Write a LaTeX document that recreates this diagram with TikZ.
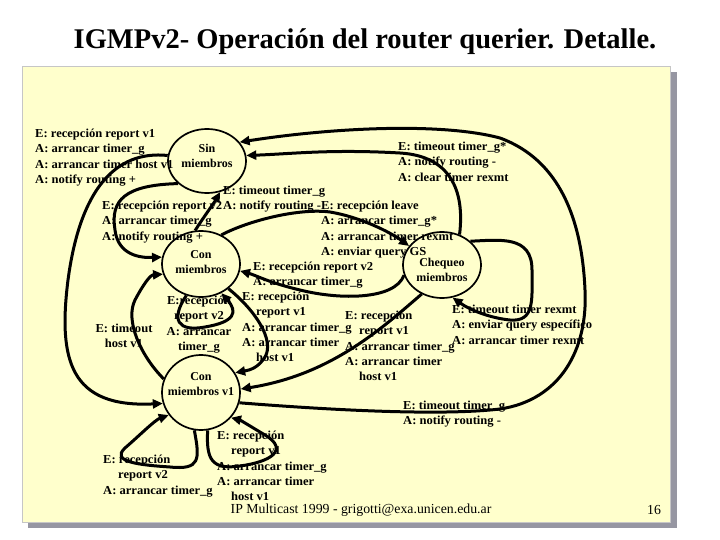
\documentclass[tikz,border=0pt]{standalone}
\usepackage{fontspec}
\setmainfont{Liberation Serif}
\newfontfamily\lblfont{Liberation Serif}[FakeStretch=1.03]
\usepackage{xcolor}
\usepackage{tikz}
\usetikzlibrary{shapes.geometric,arrows.meta,positioning,calc}

\definecolor{panelfill}{RGB}{255,255,204}
\definecolor{panelshadow}{RGB}{150,150,162}

\begin{document}
\begin{tikzpicture}[x=1pt, y=-1pt,
    >={Triangle[length=10pt,width=9pt]},
    state/.style={ellipse, draw, line width=1.7pt, minimum width=78pt, inner sep=0pt},
    stxt/.style={inner sep=0pt, align=center, font=\fontsize{12}{15}\selectfont\bfseries},
    trans/.style={->, line width=3pt},
    act/.style={inner sep=0pt, anchor=north west, align=left, font=\lblfont\fontsize{12.2}{15.3}\selectfont\bfseries},
    actc/.style={act, anchor=north, align=center}
]
\useasboundingbox (0,0) rectangle (720,540);

% slide
\node[font=\fontsize{28.5}{30}\selectfont\bfseries] (title) at (365,42) {IGMPv2- Operación del router querier. Detalle.};
\fill[panelshadow] (28,72) rectangle (677,528);
\filldraw[fill=panelfill, draw=gray!45, line width=0.8pt] (22,66) rectangle (670,522);

% states
\node[state, minimum height=64pt] (sin) at (207,161) {};
\node[state, minimum height=66pt] (con) at (201,264) {};
\node[state, minimum height=75pt] (conv1) at (201,392.5) {};
\node[state, minimum height=66pt] (cheq) at (442,265) {};
\node[stxt] (sinT) at ($(sin)+(0,-5)$) {Sin\\miembros};
\node[stxt] (conT) at ($(con)+(0,-2)$) {Con\\miembros};
\node[stxt] (conv1T) at ($(conv1)+(0,-8)$) {Con\\miembros v1};
\node[stxt] (cheqT) at ($(cheq)+(0,4.5)$) {Chequeo\\miembros};

% transitions
\draw[trans] (sin.172) .. controls (115,150) and (80,190) .. (68,280) .. controls (58,360) and (70,408) .. (conv1.196);
\draw[trans] (sin.218) .. controls (125,185) and (110,200) .. (115,230) .. controls (118,255) and (140,258) .. (con.170);
\draw[trans] (con.100) .. controls (203,218) and (214,203) .. (sin.293);
\draw[trans] (cheq.60) .. controls (465,190) and (450,156) .. (400,153) .. controls (330,149) and (290,154) .. (sin.8);
\draw[trans] (conv1.345) .. controls (330,410) and (440,416) .. (500,409) .. controls (560,400) and (588,350) .. (585,290) .. controls (582,220) and (560,160) .. (500,138) .. controls (440,122) and (330,128) .. (sin.30);
\draw[trans] (con.55) .. controls (250,220) and (300,208) .. (330,212) .. controls (360,217) and (390,232) .. (cheq.150);
\draw[trans] (cheq.195) .. controls (395,300) and (340,300) .. (300,290) .. controls (270,283) and (255,275) .. (con.350);
\draw[trans] (cheq.40) .. controls (500,240) and (532,235) .. (532,270) .. controls (532,300) and (535,322) .. (510,320) .. controls (490,318) and (470,310) .. (cheq.288);
\draw[trans] (con.245) .. controls (170,320) and (178,332) .. (205,327) .. controls (235,322) and (238,312) .. (con.305);
\draw[trans] (conv1.160) .. controls (140,355) and (125,320) .. (135,300) .. controls (143,285) and (150,275) .. (con.195);
\draw[trans] (con.318) .. controls (255,310) and (275,340) .. (265,357) .. controls (258,368) and (250,370) .. (conv1.30);
\draw[trans] (cheq.235) .. controls (380,330) and (330,375) .. (conv1.5);
\draw[trans] (conv1.260) .. controls (200,460) and (200,470) .. (170,467) .. controls (140,465) and (110,462) .. (125,448) .. controls (140,435) and (155,420) .. (conv1.215);
\draw[trans] (conv1.280) .. controls (206,460) and (212,470) .. (240,466) .. controls (270,462) and (290,450) .. (265,435) .. controls (250,426) and (240,420) .. (conv1.320);

% events / actions
\node[act] (lbA) at (35,129) {E: recepción report v1\\A: arrancar timer\_g\\A: arrancar timer host v1\\A: notify routing +};
\node[act] (lbB) at (398,142) {E: timeout timer\_g*\\A: notify routing -\\A: clear timer rexmt};
\node[act] (lbC) at (223,186) {E: timeout timer\_g\\A: notify routing -};
\node[act] (lbD) at (102,201) {E: recepción report v2\\A: arrancar timer\_g\\A: notify routing +};
\node[act] (lbE) at (321,201) {E: recepción leave\\A: arrancar timer\_g*\\A: arrancar timer rexmt\\A: enviar query GS};
\node[act] (lbF) at (253,262) {E: recepción report v2\\A: arrancar timer\_g};
\node[actc] (lbG) at (199,296) {E:recepción\\report v2\\A: arrancar\\timer\_g};
\node[actc] (lbH) at (124,324) {E: timeout\\host v1};
\node[act] (lbI) at (242,292) {E: recepción\\\hspace{14pt}report v1\\A: arrancar timer\_g\\A: arrancar timer\\\hspace{14pt}host v1};
\node[act] (lbJ) at (345,311) {E: recepción\\\hspace{14pt}report v1\\A: arrancar timer\_g\\A: arrancar timer\\\hspace{14pt}host v1};
\node[act] (lbK) at (452,305) {E: timeout timer rexmt\\A: enviar query específico\\A: arrancar timer rexmt};
\node[act] (lbM) at (403,401) {E: timeout timer\_g\\A: notify routing -};
\node[act] (lbN) at (217,431) {E: recepción\\\hspace{14pt}report v1\\A: arrancar timer\_g\\A: arrancar timer\\\hspace{14pt}host v1};
\node[act] (lbO) at (103,455) {E: recepción\\\hspace{15pt}report v2\\A: arrancar timer\_g};

% footer
\node[font=\fontsize{13.8}{15}\selectfont] (foot) at (361,510) {IP Multicast 1999 - grigotti@exa.unicen.edu.ar};
\node[font=\fontsize{13.8}{15}\selectfont] (page) at (654,510) {16};
\end{tikzpicture}
\end{document}
